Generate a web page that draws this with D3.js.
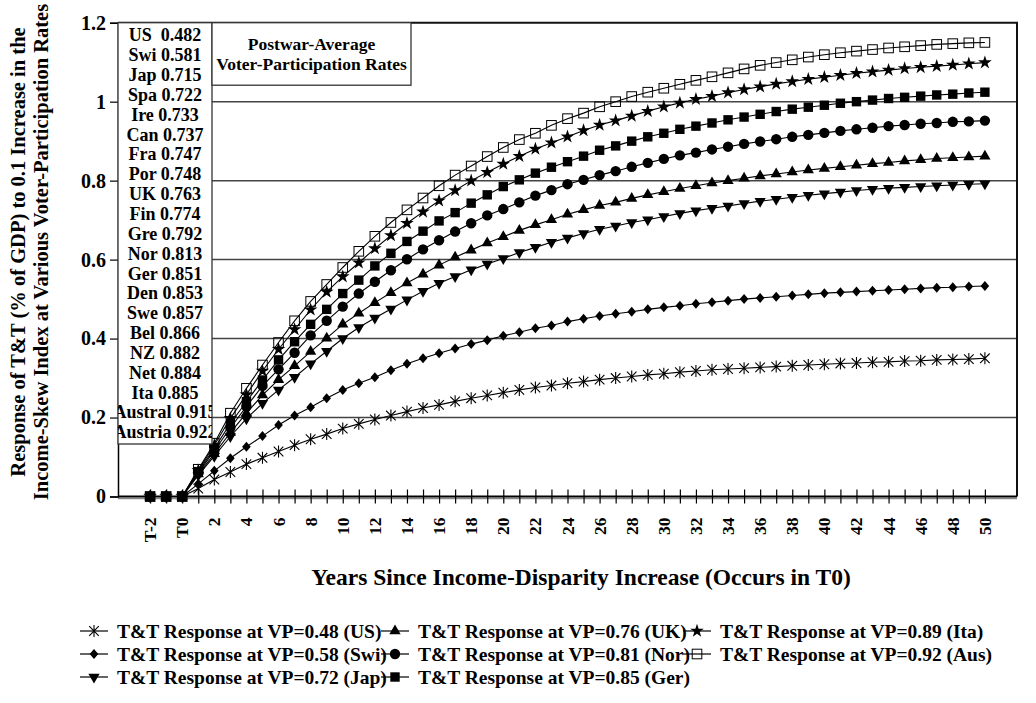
<!DOCTYPE html>
<html><head><meta charset="utf-8">
<script src="https://cdn.jsdelivr.net/npm/d3@7"></script>
<style>
body{margin:0;background:#fff}
svg{display:block}
text{font-family:"Liberation Serif","Times New Roman",serif;font-weight:bold;fill:#000}
</style>
</head><body>
<svg id="chart" width="1036" height="703"></svg>
<script>
const categories = ["T-2","T-1","T0","1","2","3","4","5","6","7","8","9","10","11","12","13","14","15","16","17","18","19","20","21","22","23","24","25","26","27","28","29","30","31","32","33","34","35","36","37","38","39","40","41","42","43","44","45","46","47","48","49","50"];
const xTickLabels = ["T-2","T0","2","4","6","8","10","12","14","16","18","20","22","24","26","28","30","32","34","36","38","40","42","44","46","48","50"];
const yTickValues = [0,0.2,0.4,0.6,0.8,1,1.2];
const yTickLabels = ["0","0.2","0.4","0.6","0.8","1","1.2"];

const valuesUS = [0,0,0,
 0.020,0.043,0.062,0.082,0.098,0.114,0.130,0.145,0.158,0.172,0.184,0.195,0.205,0.215,0.224,0.232,
 0.241,0.249,0.256,0.263,0.270,0.276,0.281,0.287,0.291,0.296,0.300,0.304,0.308,0.311,0.315,0.318,
 0.321,0.323,0.325,0.327,0.329,0.331,0.333,0.335,0.337,0.338,0.340,0.341,0.343,0.344,0.346,0.347,0.348,0.350];
const valuesSwi = [0,0,0,
 0.032,0.065,0.097,0.126,0.153,0.181,0.205,0.226,0.249,0.270,0.287,0.302,0.320,0.336,0.350,0.363,
 0.375,0.386,0.396,0.407,0.416,0.426,0.433,0.443,0.450,0.457,0.463,0.468,0.474,0.479,0.483,0.488,
 0.492,0.496,0.500,0.503,0.506,0.509,0.512,0.515,0.517,0.519,0.521,0.523,0.525,0.527,0.529,0.530,0.532,0.533];
const valuesJap = [0,0,0,
 0.054,0.102,0.152,0.197,0.236,0.270,0.302,0.336,0.368,0.400,0.428,0.452,0.475,0.498,0.520,0.540,
 0.557,0.574,0.589,0.603,0.618,0.631,0.644,0.655,0.666,0.677,0.685,0.694,0.701,0.709,0.717,0.724,
 0.730,0.736,0.742,0.748,0.753,0.758,0.763,0.767,0.771,0.775,0.778,0.781,0.783,0.785,0.787,0.789,0.791,0.792];
const valuesUK = [0,0,0,
 0.057,0.108,0.162,0.211,0.257,0.296,0.331,0.367,0.401,0.436,0.464,0.491,0.516,0.541,0.563,0.586,
 0.606,0.624,0.642,0.658,0.674,0.688,0.701,0.715,0.726,0.737,0.745,0.755,0.764,0.772,0.780,0.787,
 0.794,0.800,0.806,0.812,0.817,0.822,0.827,0.831,0.835,0.839,0.843,0.846,0.850,0.853,0.856,0.858,0.860,0.862];
const valuesNor = [0,0,0,
 0.060,0.116,0.174,0.228,0.280,0.322,0.364,0.408,0.445,0.481,0.514,0.544,0.573,0.601,0.626,0.649,
 0.671,0.692,0.712,0.728,0.745,0.762,0.776,0.791,0.802,0.814,0.824,0.835,0.845,0.855,0.864,0.871,
 0.879,0.886,0.893,0.899,0.905,0.911,0.916,0.921,0.926,0.930,0.934,0.938,0.941,0.944,0.946,0.949,0.950,0.952];
const valuesGer = [0,0,0,
 0.063,0.122,0.185,0.240,0.295,0.346,0.392,0.436,0.474,0.514,0.548,0.584,0.616,0.646,0.672,0.698,
 0.719,0.743,0.764,0.785,0.802,0.819,0.834,0.848,0.862,0.877,0.888,0.900,0.911,0.920,0.930,0.938,
 0.946,0.954,0.961,0.968,0.975,0.981,0.986,0.991,0.996,1.000,1.004,1.008,1.011,1.014,1.017,1.019,1.022,1.024];
const valuesIta = [0,0,0,
 0.066,0.130,0.198,0.258,0.318,0.373,0.423,0.473,0.518,0.557,0.592,0.628,0.661,0.692,0.721,0.749,
 0.775,0.800,0.821,0.842,0.862,0.880,0.896,0.911,0.927,0.941,0.952,0.964,0.976,0.987,0.997,1.006,
 1.014,1.023,1.031,1.038,1.045,1.051,1.057,1.062,1.067,1.072,1.076,1.080,1.084,1.087,1.090,1.093,1.096,1.099];
const valuesAus = [0,0,0,
 0.069,0.135,0.211,0.274,0.333,0.390,0.445,0.494,0.537,0.580,0.621,0.659,0.694,0.726,0.756,0.787,
 0.814,0.837,0.861,0.884,0.904,0.920,0.940,0.957,0.971,0.987,1.000,1.013,1.024,1.034,1.044,1.054,
 1.063,1.073,1.083,1.092,1.099,1.106,1.113,1.119,1.124,1.128,1.132,1.136,1.139,1.142,1.145,1.147,1.149,1.150];

const seriesLabels = ["T&T Response at VP=0.48 (US)","T&T Response at VP=0.58 (Swi)","T&T Response at VP=0.72 (Jap)",
 "T&T Response at VP=0.76 (UK)","T&T Response at VP=0.81 (Nor)","T&T Response at VP=0.85 (Ger)",
 "T&T Response at VP=0.89 (Ita)","T&T Response at VP=0.92 (Aus)"];
const seriesMarkers = ["asterisk","diamond","triDown","triUp","circle","square","star","openSquare"];
const seriesValues = [valuesUS,valuesSwi,valuesJap,valuesUK,valuesNor,valuesGer,valuesIta,valuesAus];

const countryRates = ["US  0.482","Swi 0.581","Jap 0.715","Spa 0.722","Ire 0.733","Can 0.737","Fra 0.747","Por 0.748",
 "UK 0.763","Fin 0.774","Gre 0.792","Nor 0.813","Ger 0.851","Den 0.853","Swe 0.857","Bel 0.866","NZ 0.882",
 "Net 0.884","Ita 0.885","Austral 0.915","Austria 0.922"];
const noteLines = ["Postwar-Average","Voter-Participation Rates"];
const yTitleLines = ["Response of T&T (% of GDP) to 0.1 Increase in the","Income-Skew Index at Various Voter-Participation Rates"];
const xTitle = "Years Since Income-Disparity Increase (Occurs in T0)";

// ---------- layout ----------
const svg = d3.select("#chart");
const plot = {left:118, right:1017, top:22.7, bottom:496.5};
const step = (plot.right - plot.left) / 56;
const x = d3.scalePoint().domain(categories).range([plot.left + 2*step, plot.right - 2*step]);
const y = d3.scaleLinear().domain([0,1.2]).range([plot.bottom, plot.top]);

// gridlines
svg.append("g").selectAll("line").data(yTickValues.filter(v => v>0 && v<1.2)).join("line")
  .attr("x1", plot.left).attr("x2", plot.right)
  .attr("y1", d => y(d)).attr("y2", d => y(d))
  .attr("stroke", "#444").attr("stroke-width", 1.5);
// frame top & right
svg.append("path")
  .attr("d", `M${plot.left},${y(1.2)}H${plot.right}V${plot.bottom}`)
  .attr("fill","none").attr("stroke","#111").attr("stroke-width",2);

// y axis
const yAxis = d3.axisLeft(y).tickValues(yTickValues).tickSize(8).tickPadding(4)
  .tickFormat((d,i) => yTickLabels[i]);
const gy = svg.append("g").attr("transform", `translate(${plot.left},0)`).call(yAxis);
gy.select(".domain").attr("stroke","#000").attr("stroke-width",1.5);
gy.selectAll(".tick line").attr("stroke","#000").attr("stroke-width",1.2);
gy.selectAll(".tick text").style("font-size","20px").style("font-family","Liberation Serif").style("font-weight","bold");

// x axis
svg.append("line").attr("x1",plot.left).attr("x2",plot.right).attr("y1",plot.bottom+2).attr("y2",plot.bottom+2)
  .attr("stroke","#888").attr("stroke-width",1.5);
const xAxis = d3.axisBottom(x).tickSizeInner(7).tickSizeOuter(0).tickFormat(() => "");
const gx = svg.append("g").attr("transform", `translate(0,${plot.bottom})`).call(xAxis);
gx.select(".domain").attr("d", `M${plot.left},0H${plot.right}`).attr("stroke","#000").attr("stroke-width",2.2);
gx.selectAll(".tick line").attr("y1",-7).attr("y2",7).attr("stroke","#000").attr("stroke-width",1.2);
svg.append("g").selectAll("text").data(xTickLabels).join("text")
  .attr("transform", d => `translate(${x(d)+6},${plot.bottom+21}) rotate(-90)`)
  .attr("text-anchor","end").style("font-size","17.5px").text(d => d);

// axis titles
svg.append("text").attr("x",581).attr("y",585).attr("text-anchor","middle").style("font-size","23.5px").text(xTitle);
svg.append("g").selectAll("text").data(yTitleLines).join("text")
  .attr("transform", (d,i) => `translate(${25 + i*23},252) rotate(-90)`)
  .attr("text-anchor","middle").style("font-size","20.5px").text(d => d);

// ---------- markers ----------
function drawMarker(g, type) {
  if (type === "asterisk") {
    const r = 6;
    g.append("path").attr("d", `M0,${-r}V${r}M${-r*0.8},${-r*0.8}L${r*0.8},${r*0.8}M${-r*0.8},${r*0.8}L${r*0.8},${-r*0.8}`)
      .attr("stroke","#000").attr("stroke-width",1.1).attr("fill","none");
  } else if (type === "diamond") {
    g.append("path").attr("d", "M0,-5L4.3,0L0,5L-4.3,0Z").attr("fill","#000");
  } else if (type === "triUp") {
    g.append("path").attr("d", d3.symbol(d3.symbolTriangle, 55)()).attr("fill","#000");
  } else if (type === "triDown") {
    g.append("path").attr("d", d3.symbol(d3.symbolTriangle, 55)()).attr("transform","rotate(180)").attr("fill","#000");
  } else if (type === "circle") {
    g.append("circle").attr("r",5.2).attr("fill","#000");
  } else if (type === "square") {
    g.append("rect").attr("x",-4.7).attr("y",-4.7).attr("width",9.4).attr("height",9.4).attr("fill","#000");
  } else if (type === "star") {
    g.append("path").attr("d", d3.symbol(d3.symbolStar, 58)()).attr("fill","#000");
  } else if (type === "openSquare") {
    g.append("rect").attr("x",-4.8).attr("y",-4.8).attr("width",9.6).attr("height",9.6)
      .attr("fill","none").attr("stroke","#000").attr("stroke-width",1);
  }
}

const line = d3.line().x((d,i) => x(categories[i])).y(d => y(d));
const seriesG = svg.append("g");
seriesValues.forEach((vals) => {
  seriesG.append("path").attr("d", line(vals)).attr("fill","none").attr("stroke","#000").attr("stroke-width",1.1);
});
seriesValues.forEach((vals, si) => {
  const g = seriesG.append("g");
  vals.forEach((v,i) => {
    const m = g.append("g").attr("transform", `translate(${x(categories[i])},${y(v)})`);
    drawMarker(m, seriesMarkers[si]);
  });
});

// ---------- country box ----------
const boxW = 94, boxTop = plot.top, boxBottom = 444;
svg.append("defs").append("clipPath").attr("id","boxclip").append("rect")
  .attr("x",plot.left).attr("y",boxTop).attr("width",boxW).attr("height",boxBottom-boxTop);
svg.append("rect").attr("x",plot.left).attr("y",boxTop).attr("width",boxW).attr("height",boxBottom-boxTop)
  .attr("fill","#fff").attr("stroke","#333").attr("stroke-width",1.3);
svg.append("g").attr("clip-path","url(#boxclip)").selectAll("text").data(countryRates).join("text")
  .attr("x", plot.left + boxW/2).attr("y",(d,i) => 35 + i*19.85).attr("dy","0.35em")
  .attr("text-anchor","middle").style("font-size","18px").style("white-space","pre")
  .attr("xml:space","preserve").text(d => d);

// note box
svg.append("rect").attr("x",plot.left+boxW).attr("y",plot.top).attr("width",199).attr("height",62.5)
  .attr("fill","#fff").attr("stroke","#333").attr("stroke-width",1.3);
svg.append("g").selectAll("text").data(noteLines).join("text")
  .attr("x", plot.left+boxW+99.5).attr("y",(d,i) => 44 + i*19.5).attr("dy","0.35em")
  .attr("text-anchor","middle").style("font-size","17.5px").text(d => d);

// ---------- legend ----------
const legendCols = [80, 381, 683];
const legendRows = [631, 654, 677];
const legend = svg.append("g");
seriesLabels.forEach((lab, i) => {
  const col = Math.floor(i/3), row = i%3;
  const g = legend.append("g").attr("transform", `translate(${legendCols[col]},${legendRows[row]})`);
  g.append("line").attr("x1",0).attr("x2",28).attr("stroke","#000").attr("stroke-width",1.2);
  const m = g.append("g").attr("transform","translate(14,0)");
  drawMarker(m, seriesMarkers[i]);
  g.append("text").attr("x",37).attr("dy","0.35em").style("font-size","19.5px").text(lab);
});
</script>
</body></html>
